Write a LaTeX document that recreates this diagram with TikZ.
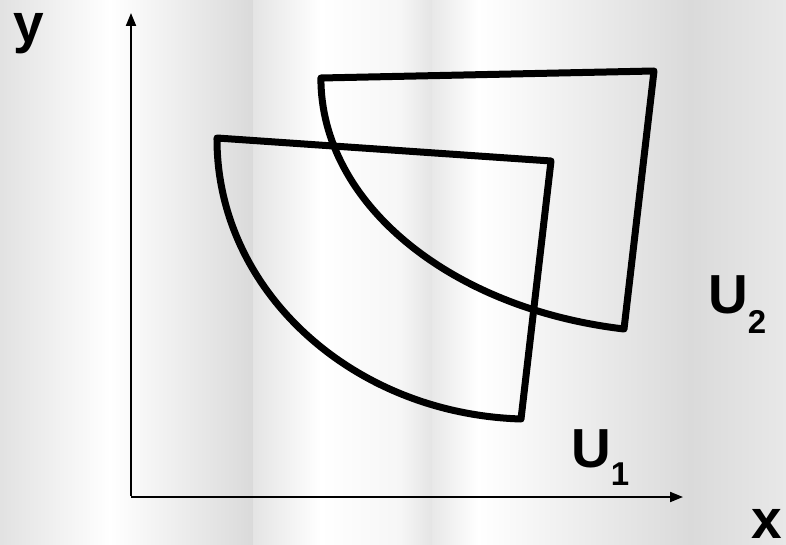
\documentclass[tikz,border=0pt]{standalone}
\usepackage{fontspec}
\setmainfont{Liberation Sans}
\usetikzlibrary{arrows.meta}
\definecolor{bgA}{gray}{0.885}
\definecolor{bgW}{gray}{1.0}
\definecolor{bgD}{gray}{0.855}
\definecolor{bgM}{gray}{0.895}
\definecolor{bgL}{gray}{0.965}
\definecolor{bgE}{gray}{0.91}
\newcommand{\mysubfont}{\bfseries\fontsize{33}{33}\selectfont}
\begin{document}
\begin{tikzpicture}[x=1pt,y=-1pt,
  region/.style={draw=black, line width=7pt, line join=round},
  axisline/.style={draw=black, line width=2pt, -{Triangle[length=13pt,width=10pt]}},
  lbl/.style={anchor=base west, inner sep=0pt, font=\bfseries\fontsize{55}{55}\selectfont}]
\useasboundingbox (0,0) rectangle (786,545);
% background bands
\shade[left color=bgA, right color=bgW] (0,0) rectangle (110.6,545);
\shade[left color=bgW, right color=bgD] (110,0) rectangle (253.6,545);
\shade[left color=bgM, right color=bgW] (253,0) rectangle (320.6,545);
\shade[left color=bgW, right color=bgL] (320,0) rectangle (400.6,545);
\shade[left color=bgL, right color=bgM] (400,0) rectangle (432.6,545);
\shade[left color=bgE, right color=bgW] (432,0) rectangle (478.6,545);
\shade[left color=bgW, right color=bgD] (478,0) rectangle (690.6,545);
\shade[left color=bgD, right color=bgE] (690,0) rectangle (786,545);
% axes
\coordinate (yb) at (131,496);
\coordinate (yt) at (131,13);
\coordinate (xb) at (131,497);
\coordinate (xt) at (683,497);
\draw[axisline] (yb) -- (yt);
\draw[axisline] (xb) -- (xt);
% regions
\draw[region] (217,138) -- (551,161) -- (521,419)
  arc[start angle=92, end angle=180, x radius=315, y radius=280] -- cycle;
\draw[region] (321,78) -- (654,71) -- (624,329)
  arc[start angle=99.5, end angle=180, x radius=363, y radius=254] -- cycle;
% labels
\node[lbl] (ylab) at (13,43) {y};
\node[lbl] (xlab) at (751,538) {x};
\node[lbl] (u1) at (571,467) {U\raisebox{-18pt}{\mysubfont 1}};
\node[lbl] (u2) at (708,313) {U\raisebox{-20pt}{\mysubfont 2}};
\end{tikzpicture}
\end{document}
